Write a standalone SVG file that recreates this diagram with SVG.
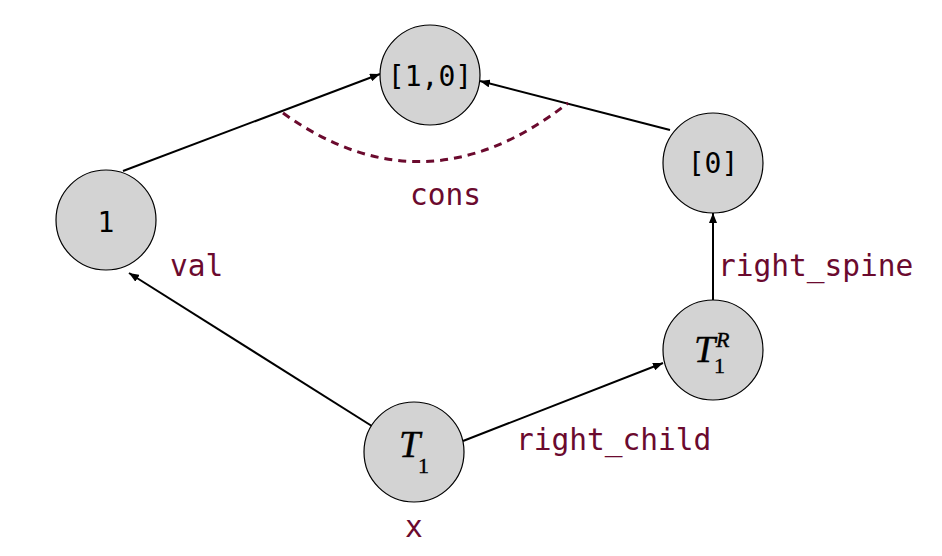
<svg xmlns="http://www.w3.org/2000/svg" width="942" height="556" viewBox="0 0 942 556">
<defs>
<marker id="arr" viewBox="0 0 10 8" refX="10" refY="4" markerWidth="10" markerHeight="8" markerUnits="userSpaceOnUse" orient="auto">
<path d="M0,0 L10,4 L0,8 Z" fill="#000"/>
</marker>
<style>
.node{fill:#d3d3d3;stroke:#000;stroke-width:1.2}
.mono{font-family:"DejaVu Sans Mono","Liberation Mono",monospace;font-size:28px;fill:#000;text-anchor:middle}
.math{font-family:"Liberation Serif","Times New Roman",serif;fill:#000;stroke:#000;stroke-width:0.4}
.lbl{font-family:"DejaVu Sans Mono","Liberation Mono",monospace;font-size:29.5px;fill:#6b0a2e}
.edge{stroke:#000;stroke-width:2;fill:none}
</style>
</defs>
<rect width="942" height="556" fill="#fff"/>
<g id="connectors">
<line class="edge" x1="123" y1="171" x2="380" y2="74" marker-end="url(#arr)"/>
<line class="edge" x1="670" y1="130" x2="480" y2="81" marker-end="url(#arr)"/>
<line class="edge" x1="375" y1="428" x2="129" y2="273" marker-end="url(#arr)"/>
<line class="edge" x1="463" y1="441" x2="663" y2="363" marker-end="url(#arr)"/>
<line class="edge" x1="713" y1="301" x2="713" y2="213" marker-end="url(#arr)"/>
<path d="M283,113 Q425,215 568,103" fill="none" stroke="#6b0a2e" stroke-width="3" stroke-dasharray="8,6"/>
</g>
<g id="node-10">
<circle class="node" cx="430" cy="75" r="50"/>
<text class="mono" x="430" y="86">[1,0]</text>
</g>
<g id="node-0">
<circle class="node" cx="713" cy="163" r="50"/>
<text class="mono" x="713" y="173">[0]</text>
</g>
<g id="node-1">
<circle class="node" cx="106" cy="220" r="50"/>
<text class="mono" x="106" y="232">1</text>
</g>
<g id="node-T1R">
<circle class="node" cx="713" cy="350" r="50"/>
<text class="math" x="694" y="362" font-size="38" font-style="italic">T</text>
<text class="math" x="716" y="347" font-size="22" font-style="italic">R</text>
<text class="math" x="714" y="373" font-size="22">1</text>
</g>
<g id="node-T1">
<circle class="node" cx="414" cy="452" r="50"/>
<text class="math" x="399" y="457" font-size="38" font-style="italic">T</text>
<text class="math" x="418" y="473" font-size="22">1</text>
</g>
<g id="labels">
<text class="lbl" x="410" y="205">cons</text>
<text class="lbl" x="170" y="276">val</text>
<text class="lbl" x="718" y="276">right_spine</text>
<text class="lbl" x="516" y="450">right_child</text>
<text class="lbl" x="405" y="537">x</text>
</g>
</svg>
